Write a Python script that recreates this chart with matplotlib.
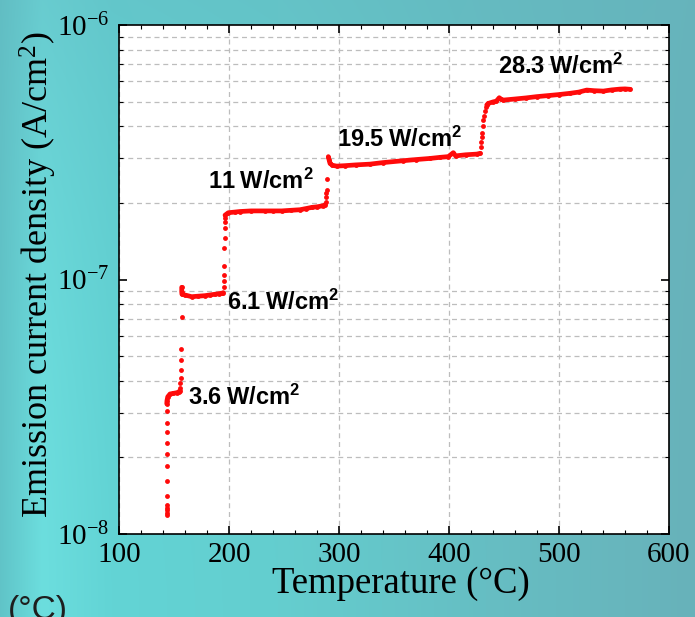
import numpy as np
import matplotlib
matplotlib.use("Agg")
import matplotlib.pyplot as plt
from matplotlib.ticker import LogLocator, MultipleLocator, LogFormatterMathtext, NullFormatter

plt.rcParams["font.family"] = ["Liberation Serif", "DejaVu Serif"]
plt.rcParams["mathtext.fontset"] = "custom"
plt.rcParams["mathtext.rm"] = "Liberation Serif"
plt.rcParams["mathtext.it"] = "Liberation Serif:italic"
plt.rcParams["mathtext.bf"] = "Liberation Serif:bold"
plt.rcParams["mathtext.sf"] = "Liberation Sans:bold"

# ---- measured emission current density (A/cm^2) vs temperature (degC) ----
# 3.6 W/cm^2: initial turn-on and plateau
onset_T = [143.3, 143.2, 143.4, 143.3, 143.2, 143.3, 143.3, 143.3, 143.4, 143.4, 143.4, 143.4, 143.4]
onset_J = [1.19e-8, 1.21e-8, 1.24e-8, 1.27e-8, 1.30e-8, 1.41e-8, 1.62e-8, 1.85e-8,
           2.07e-8, 2.28e-8, 2.52e-8, 2.74e-8, 3.05e-8]
p36_T = [143.4, 143.6, 144.3, 146.4, 149.4, 152.5, 154.5, 155.5]
p36_J = [3.25e-8, 3.34e-8, 3.46e-8, 3.55e-8, 3.57e-8, 3.59e-8, 3.62e-8, 3.66e-8]

# step to 6.1 W/cm^2
s1_T = [155.7, 155.8, 156.0, 156.3, 156.5, 156.8, 157.0]
s1_J = [3.74e-8, 3.91e-8, 4.10e-8, 4.41e-8, 4.83e-8, 5.32e-8, 7.14e-8]
p61_T = [157.0, 157.0, 157.2, 160.0, 166.1, 172.0, 178.2, 183.0, 187.3, 191.0, 193.4, 194.8]
p61_J = [9.32e-8, 8.96e-8, 8.75e-8, 8.69e-8, 8.56e-8, 8.60e-8, 8.64e-8, 8.70e-8,
         8.75e-8, 8.80e-8, 8.83e-8, 8.88e-8]

# step to 11 W/cm^2
s2_T = [195.0, 195.1, 195.3, 195.5, 195.8, 196.0, 196.1, 196.3, 196.4]
s2_J = [9.38e-8, 9.86e-8, 1.04e-7, 1.13e-7, 1.33e-7, 1.46e-7, 1.59e-7, 1.69e-7, 1.75e-7]
p11_T = [196.4, 199.4, 205.0, 210.0, 220.0, 232.7, 240.0, 247.9, 256.0, 264.5, 270.0,
         275.2, 280.0, 285.7, 287.5]
p11_J = [1.79e-7, 1.83e-7, 1.84e-7, 1.85e-7, 1.86e-7, 1.86e-7, 1.86e-7, 1.86e-7,
         1.87e-7, 1.88e-7, 1.90e-7, 1.92e-7, 1.93e-7, 1.95e-7, 1.97e-7]

# step to 19.5 W/cm^2
s3_T = [288.2, 288.3, 288.5, 288.7, 289.0]
s3_J = [2.02e-7, 2.11e-7, 2.18e-7, 2.25e-7, 2.48e-7]
p195_T = [290.3, 291.0, 291.8, 294.0, 297.9, 305.0, 315.0, 328.2, 340.0, 358.5, 370.0,
          382.7, 392.0, 399.4, 403.9, 406.0, 415.0, 425.2, 428.2]
p195_J = [3.04e-7, 2.95e-7, 2.86e-7, 2.81e-7, 2.79e-7, 2.80e-7, 2.82e-7, 2.84e-7,
          2.88e-7, 2.93e-7, 2.96e-7, 2.99e-7, 3.02e-7, 3.04e-7, 3.15e-7, 3.06e-7,
          3.09e-7, 3.11e-7, 3.13e-7]

# step to 28.3 W/cm^2
s4_T = [429.0, 429.3, 429.6, 430.0, 430.5, 431.2, 432.0, 432.7, 433.5]
s4_J = [3.33e-7, 3.48e-7, 3.62e-7, 3.77e-7, 4.01e-7, 4.22e-7, 4.40e-7, 4.58e-7, 4.77e-7]
p283_T = [434.3, 435.7, 440.3, 443.0, 445.7, 447.5, 449.4, 460.0, 470.0, 479.7, 490.0,
          500.0, 510.0, 518.0, 525.2, 532.0, 540.3, 548.0, 555.5, 560.0, 564.5]
p283_J = [4.85e-7, 4.92e-7, 4.99e-7, 5.02e-7, 5.18e-7, 5.10e-7, 5.07e-7, 5.12e-7,
          5.17e-7, 5.23e-7, 5.28e-7, 5.33e-7, 5.39e-7, 5.45e-7, 5.55e-7, 5.52e-7,
          5.50e-7, 5.56e-7, 5.60e-7, 5.61e-7, 5.59e-7]

# power-density labels and their anchor points (T, J)
power_labels = ["3.6", "6.1", "11", "19.5", "28.3"]
label_T = [163.0, 197.9, 181.0, 298.0, 444.5]
label_J = [3.21e-8, 7.58e-8, 2.28e-7, 3.32e-7, 6.42e-7]

x_ticks = [100, 200, 300, 400, 500, 600]

# ---- figure with a slide-style teal backdrop ----
W, H = 695, 617
fig = plt.figure(figsize=(W / 100, H / 100), dpi=100)

bg = fig.add_axes([0, 0, 1, 1], zorder=0)
gx = np.linspace(0, 1, 400)
gy = np.linspace(0, 1, 360)[:, None]
stops = [0.0, 0.06, 0.16, 0.40, 0.70, 1.0]
cols = np.array([[96, 196, 200], [108, 222, 222], [98, 212, 213],
                 [100, 206, 207], [102, 190, 195], [104, 178, 186]]) / 255.0
base = np.stack([np.interp(gx, stops, cols[:, k]) for k in range(3)], axis=-1)[None, :, :]
top_tint = np.array([100, 182, 190]) / 255.0
w = 0.45 * (1 - gy) ** 2
img = base * (1 - w[..., None]) + top_tint * w[..., None]
bg.imshow(img, aspect="auto", extent=[0, 1, 0, 1], origin="upper")
bg.set_axis_off()

ax = fig.add_axes([119 / W, (H - 534) / H, 550 / W, 509 / H], zorder=1)
ax.set_facecolor("white")
ax.set_yscale("log")
ax.set_xlim(100, 600)
ax.set_ylim(1e-8, 1e-6)

red = "#ff0a0a"
for T, J in [(p36_T, p36_J), (p61_T, p61_J), (p11_T, p11_J),
             (p195_T, p195_J), (p283_T, p283_J)]:
    ax.plot(T, J, "-", color=red, lw=3.4, solid_capstyle="round",
            solid_joinstyle="round", zorder=3)
for T, J in [(onset_T, onset_J), (p36_T, p36_J), (s1_T, s1_J), (p61_T, p61_J),
             (s2_T, s2_J), (p11_T, p11_J), (s3_T, s3_J), (p195_T, p195_J),
             (s4_T, s4_J), (p283_T, p283_J)]:
    ax.plot(T, J, "o", color=red, ms=3.5, mew=0, zorder=3)

for val, T, J in zip(power_labels, label_T, label_J):
    ax.text(T, J, r"$\mathsf{%s\ W/cm^{2}}$" % val, fontsize=17,
            ha="left", va="baseline", color="black", zorder=4)

# axes, ticks and grid
ax.set_xticks(x_ticks)
ax.xaxis.set_minor_locator(MultipleLocator(20))
ax.yaxis.set_major_locator(LogLocator(base=10, numticks=10))
ax.yaxis.set_minor_locator(LogLocator(base=10, subs=np.arange(2, 10), numticks=20))
ax.yaxis.set_major_formatter(LogFormatterMathtext())
ax.yaxis.set_minor_formatter(NullFormatter())
ax.tick_params(which="both", direction="in", top=True, right=True, colors="black")
ax.tick_params(which="major", length=6, width=1.2, labelsize=21)
ax.tick_params(which="minor", length=3, width=0.8)
ax.tick_params(axis="x", which="major", pad=6)
ax.tick_params(axis="y", which="major", pad=7)
for s in ax.spines.values():
    s.set_linewidth(1.2)

ax.set_axisbelow(True)
grid_style = dict(color="#bdbdbd", lw=0.9, ls=(0, (4, 3)))
ax.grid(True, which="major", axis="x", **grid_style)
ax.grid(True, which="minor", axis="y", **grid_style)
ax.grid(False, which="major", axis="y")

fig.text(401 / W, 1 - 593 / H, "Temperature (°C)", fontsize=26.5,
         ha="center", va="baseline")
fig.text(38 / W, 1 - 275 / H, "Emission current density (A/cm$^2$)", fontsize=26,
         rotation=90, ha="center", va="center")
fig.text(8 / W, 1 - 619 / H, "(°C)", family=["Liberation Sans", "DejaVu Sans"],
         fontsize=24, color="#1e1e1e", ha="left", va="baseline")

fig.savefig("out.png", dpi=100)
